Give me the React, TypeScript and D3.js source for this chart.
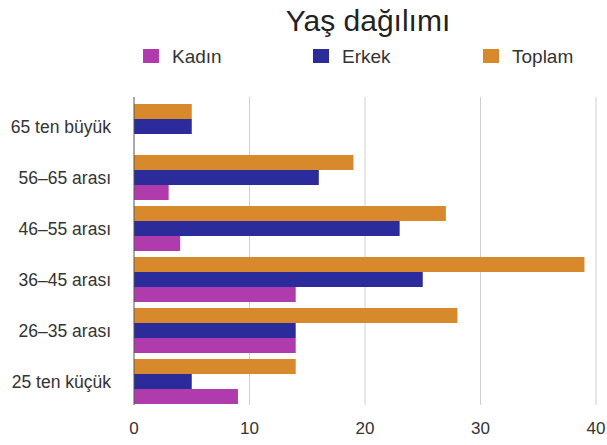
import React from "react";
import * as d3 from "d3";

const categories = ["65 ten büyük", "56–65 arası", "46–55 arası", "36–45 arası", "26–35 arası", "25 ten küçük"];
const seriesNames = ["Toplam", "Erkek", "Kadın"];
const toplam = [5, 19, 27, 39, 28, 14];
const erkek = [5, 16, 23, 25, 14, 5];
const kadin = [0, 3, 4, 14, 14, 9];
const xTicks = [0, 10, 20, 30, 40];
const colors: Record<string, string> = { Toplam: "#D8892C", Erkek: "#2B2B9B", Kadın: "#B03BAC" };
const legendItems = ["Kadın", "Erkek", "Toplam"];

export default function App() {
  const W = 607, H = 445;
  const font = "'Liberation Sans', Arial, Helvetica, sans-serif";
  const x = d3.scaleLinear().domain([0, 40]).range([134, 596]);
  const y = d3.scaleBand<string>().domain(categories).range([101, 407]).paddingInner(6 / 51).paddingOuter(3 / 51);
  const ySub = d3.scaleBand<string>().domain(seriesNames).range([0, y.bandwidth()]);
  const values: Record<string, number[]> = { Toplam: toplam, Erkek: erkek, Kadın: kadin };
  const legendX = [143, 313, 483];
  return (
    <svg width={W} height={H} style={{ position: "absolute", left: 0, top: 0, background: "#fff" }} fontFamily={font}>
      <text x={368} y={31} textAnchor="middle" fontSize={30} fill="#222">Yaş dağılımı</text>
      {legendItems.map((name, i) => (
        <g key={name}>
          <rect x={legendX[i]} y={49} width={16} height={14} fill={colors[name]} />
          <text x={legendX[i] + 29} y={63} fontSize={19} fill="#333">{name}</text>
        </g>
      ))}
      {xTicks.map((t) => (
        <g key={t}>
          {t !== 0 && <line x1={x(t)} x2={x(t)} y1={97} y2={405} stroke="#cfcfcf" strokeWidth={1} />}
          <text x={x(t)} y={434} textAnchor="middle" fontSize={17} fill="#333">{t}</text>
        </g>
      ))}
      {categories.map((c, ci) => (
        <g key={c}>
          {seriesNames.map((s) => (
            <rect key={s} x={x(0)} y={(y(c) as number) + (ySub(s) as number)} width={x(values[s][ci]) - x(0)} height={ySub.bandwidth()} fill={colors[s]} />
          ))}
          <text x={111} y={(y(c) as number) + y.bandwidth() / 2 + 6} textAnchor="end" fontSize={17.5} fill="#333">{c}</text>
        </g>
      ))}
      <line x1={x(0)} x2={x(0)} y1={97} y2={405} stroke="#555" strokeWidth={1} />
    </svg>
  );
}
